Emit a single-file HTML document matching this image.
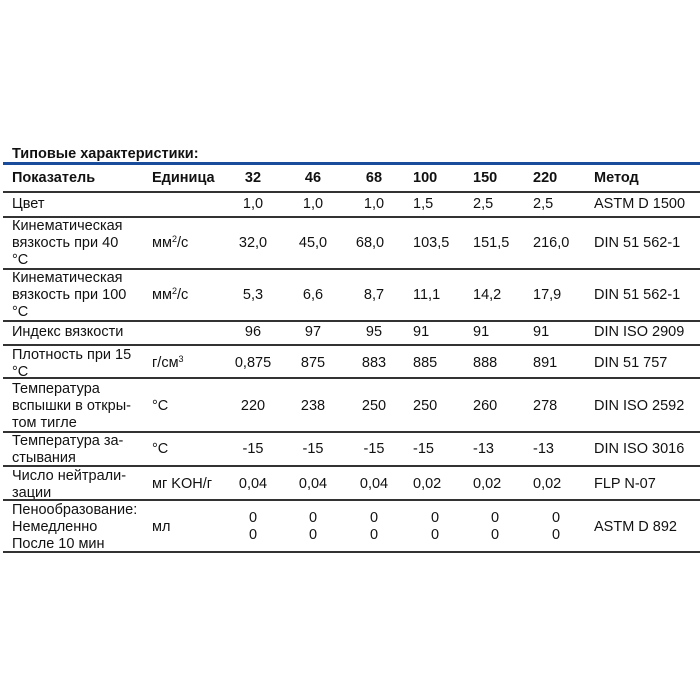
<!DOCTYPE html>
<html><head><meta charset="utf-8"><style>
body{margin:0;width:700px;height:700px;background:#fff;position:relative;overflow:hidden;font-family:"Liberation Sans",Arial,sans-serif;color:#111}
.t{position:absolute;font-size:14.5px;line-height:17px;white-space:nowrap}
.b{font-weight:bold}
.c{transform:translateX(-50%)}
.l{position:absolute;left:3px;width:697px;height:1.5px;background:#333}
sup{font-size:9px;line-height:0;vertical-align:5px}
</style></head><body>
<div class="t b" style="left:12px;top:146px">Типовые характеристики:</div>
<div style="position:absolute;left:3px;top:162px;width:697px;height:3px;background:#1a4c9c"></div>

<div class="t b" style="left:12px;top:170px">Показатель</div>
<div class="t b" style="left:152px;top:170px">Единица</div>
<div class="t b c" style="left:253px;top:170px">32</div>
<div class="t b c" style="left:313px;top:170px">46</div>
<div class="t b c" style="left:374px;top:170px">68</div>
<div class="t b" style="left:413px;top:170px">100</div>
<div class="t b" style="left:473px;top:170px">150</div>
<div class="t b" style="left:533px;top:170px">220</div>
<div class="t b" style="left:594px;top:170px">Метод</div>
<div class="l" style="top:191px"></div>

<div class="t" style="left:12px;top:196px">Цвет</div>
<div class="t c" style="left:253px;top:196px">1,0</div>
<div class="t c" style="left:313px;top:196px">1,0</div>
<div class="t c" style="left:374px;top:196px">1,0</div>
<div class="t" style="left:413px;top:196px">1,5</div>
<div class="t" style="left:473px;top:196px">2,5</div>
<div class="t" style="left:533px;top:196px">2,5</div>
<div class="t" style="left:594px;top:196px">ASTM D 1500</div>
<div class="l" style="top:216px"></div>

<div class="t" style="left:12px;top:218px">Кинематическая<br>вязкость при 40<br>°C</div>
<div class="t" style="left:152px;top:235px">мм<sup>2</sup>/с</div>
<div class="t c" style="left:253px;top:235px">32,0</div>
<div class="t c" style="left:313px;top:235px">45,0</div>
<div class="t c" style="left:370px;top:235px">68,0</div>
<div class="t" style="left:413px;top:235px">103,5</div>
<div class="t" style="left:473px;top:235px">151,5</div>
<div class="t" style="left:533px;top:235px">216,0</div>
<div class="t" style="left:594px;top:235px">DIN 51 562-1</div>
<div class="l" style="top:268px"></div>

<div class="t" style="left:12px;top:270px">Кинематическая<br>вязкость при 100<br>°C</div>
<div class="t" style="left:152px;top:287px">мм<sup>2</sup>/с</div>
<div class="t c" style="left:253px;top:287px">5,3</div>
<div class="t c" style="left:313px;top:287px">6,6</div>
<div class="t c" style="left:374px;top:287px">8,7</div>
<div class="t" style="left:413px;top:287px">11,1</div>
<div class="t" style="left:473px;top:287px">14,2</div>
<div class="t" style="left:533px;top:287px">17,9</div>
<div class="t" style="left:594px;top:287px">DIN 51 562-1</div>
<div class="l" style="top:320px"></div>

<div class="t" style="left:12px;top:324px">Индекс вязкости</div>
<div class="t c" style="left:253px;top:324px">96</div>
<div class="t c" style="left:313px;top:324px">97</div>
<div class="t c" style="left:374px;top:324px">95</div>
<div class="t" style="left:413px;top:324px">91</div>
<div class="t" style="left:473px;top:324px">91</div>
<div class="t" style="left:533px;top:324px">91</div>
<div class="t" style="left:594px;top:324px">DIN ISO 2909</div>
<div class="l" style="top:344px"></div>

<div class="t" style="left:12px;top:347px">Плотность при 15<br>°C</div>
<div class="t" style="left:152px;top:355px">г/см<sup>3</sup></div>
<div class="t c" style="left:253px;top:355px">0,875</div>
<div class="t c" style="left:313px;top:355px">875</div>
<div class="t c" style="left:374px;top:355px">883</div>
<div class="t" style="left:413px;top:355px">885</div>
<div class="t" style="left:473px;top:355px">888</div>
<div class="t" style="left:533px;top:355px">891</div>
<div class="t" style="left:594px;top:355px">DIN 51 757</div>
<div class="l" style="top:377px"></div>

<div class="t" style="left:12px;top:381px">Температура<br>вспышки в откры-<br>том тигле</div>
<div class="t" style="left:152px;top:398px">°C</div>
<div class="t c" style="left:253px;top:398px">220</div>
<div class="t c" style="left:313px;top:398px">238</div>
<div class="t c" style="left:374px;top:398px">250</div>
<div class="t" style="left:413px;top:398px">250</div>
<div class="t" style="left:473px;top:398px">260</div>
<div class="t" style="left:533px;top:398px">278</div>
<div class="t" style="left:594px;top:398px">DIN ISO 2592</div>
<div class="l" style="top:431px"></div>

<div class="t" style="left:12px;top:433px">Температура за-<br>стывания</div>
<div class="t" style="left:152px;top:441px">°C</div>
<div class="t c" style="left:253px;top:441px">-15</div>
<div class="t c" style="left:313px;top:441px">-15</div>
<div class="t c" style="left:374px;top:441px">-15</div>
<div class="t" style="left:413px;top:441px">-15</div>
<div class="t" style="left:473px;top:441px">-13</div>
<div class="t" style="left:533px;top:441px">-13</div>
<div class="t" style="left:594px;top:441px">DIN ISO 3016</div>
<div class="l" style="top:465px"></div>

<div class="t" style="left:12px;top:468px">Число нейтрали-<br>зации</div>
<div class="t" style="left:152px;top:476px">мг KOH/г</div>
<div class="t c" style="left:253px;top:476px">0,04</div>
<div class="t c" style="left:313px;top:476px">0,04</div>
<div class="t c" style="left:374px;top:476px">0,04</div>
<div class="t" style="left:413px;top:476px">0,02</div>
<div class="t" style="left:473px;top:476px">0,02</div>
<div class="t" style="left:533px;top:476px">0,02</div>
<div class="t" style="left:594px;top:476px">FLP N-07</div>
<div class="l" style="top:499px"></div>

<div class="t" style="left:12px;top:502px">Пенообразование:<br>Немедленно<br>После 10 мин</div>
<div class="t" style="left:152px;top:519px">мл</div>
<div class="t c" style="left:253px;top:510px">0<br>0</div>
<div class="t c" style="left:313px;top:510px">0<br>0</div>
<div class="t c" style="left:374px;top:510px">0<br>0</div>
<div class="t c" style="left:435px;top:510px">0<br>0</div>
<div class="t c" style="left:495px;top:510px">0<br>0</div>
<div class="t c" style="left:556px;top:510px">0<br>0</div>
<div class="t" style="left:594px;top:519px">ASTM D 892</div>
<div class="l" style="top:551px"></div>
</body></html>
